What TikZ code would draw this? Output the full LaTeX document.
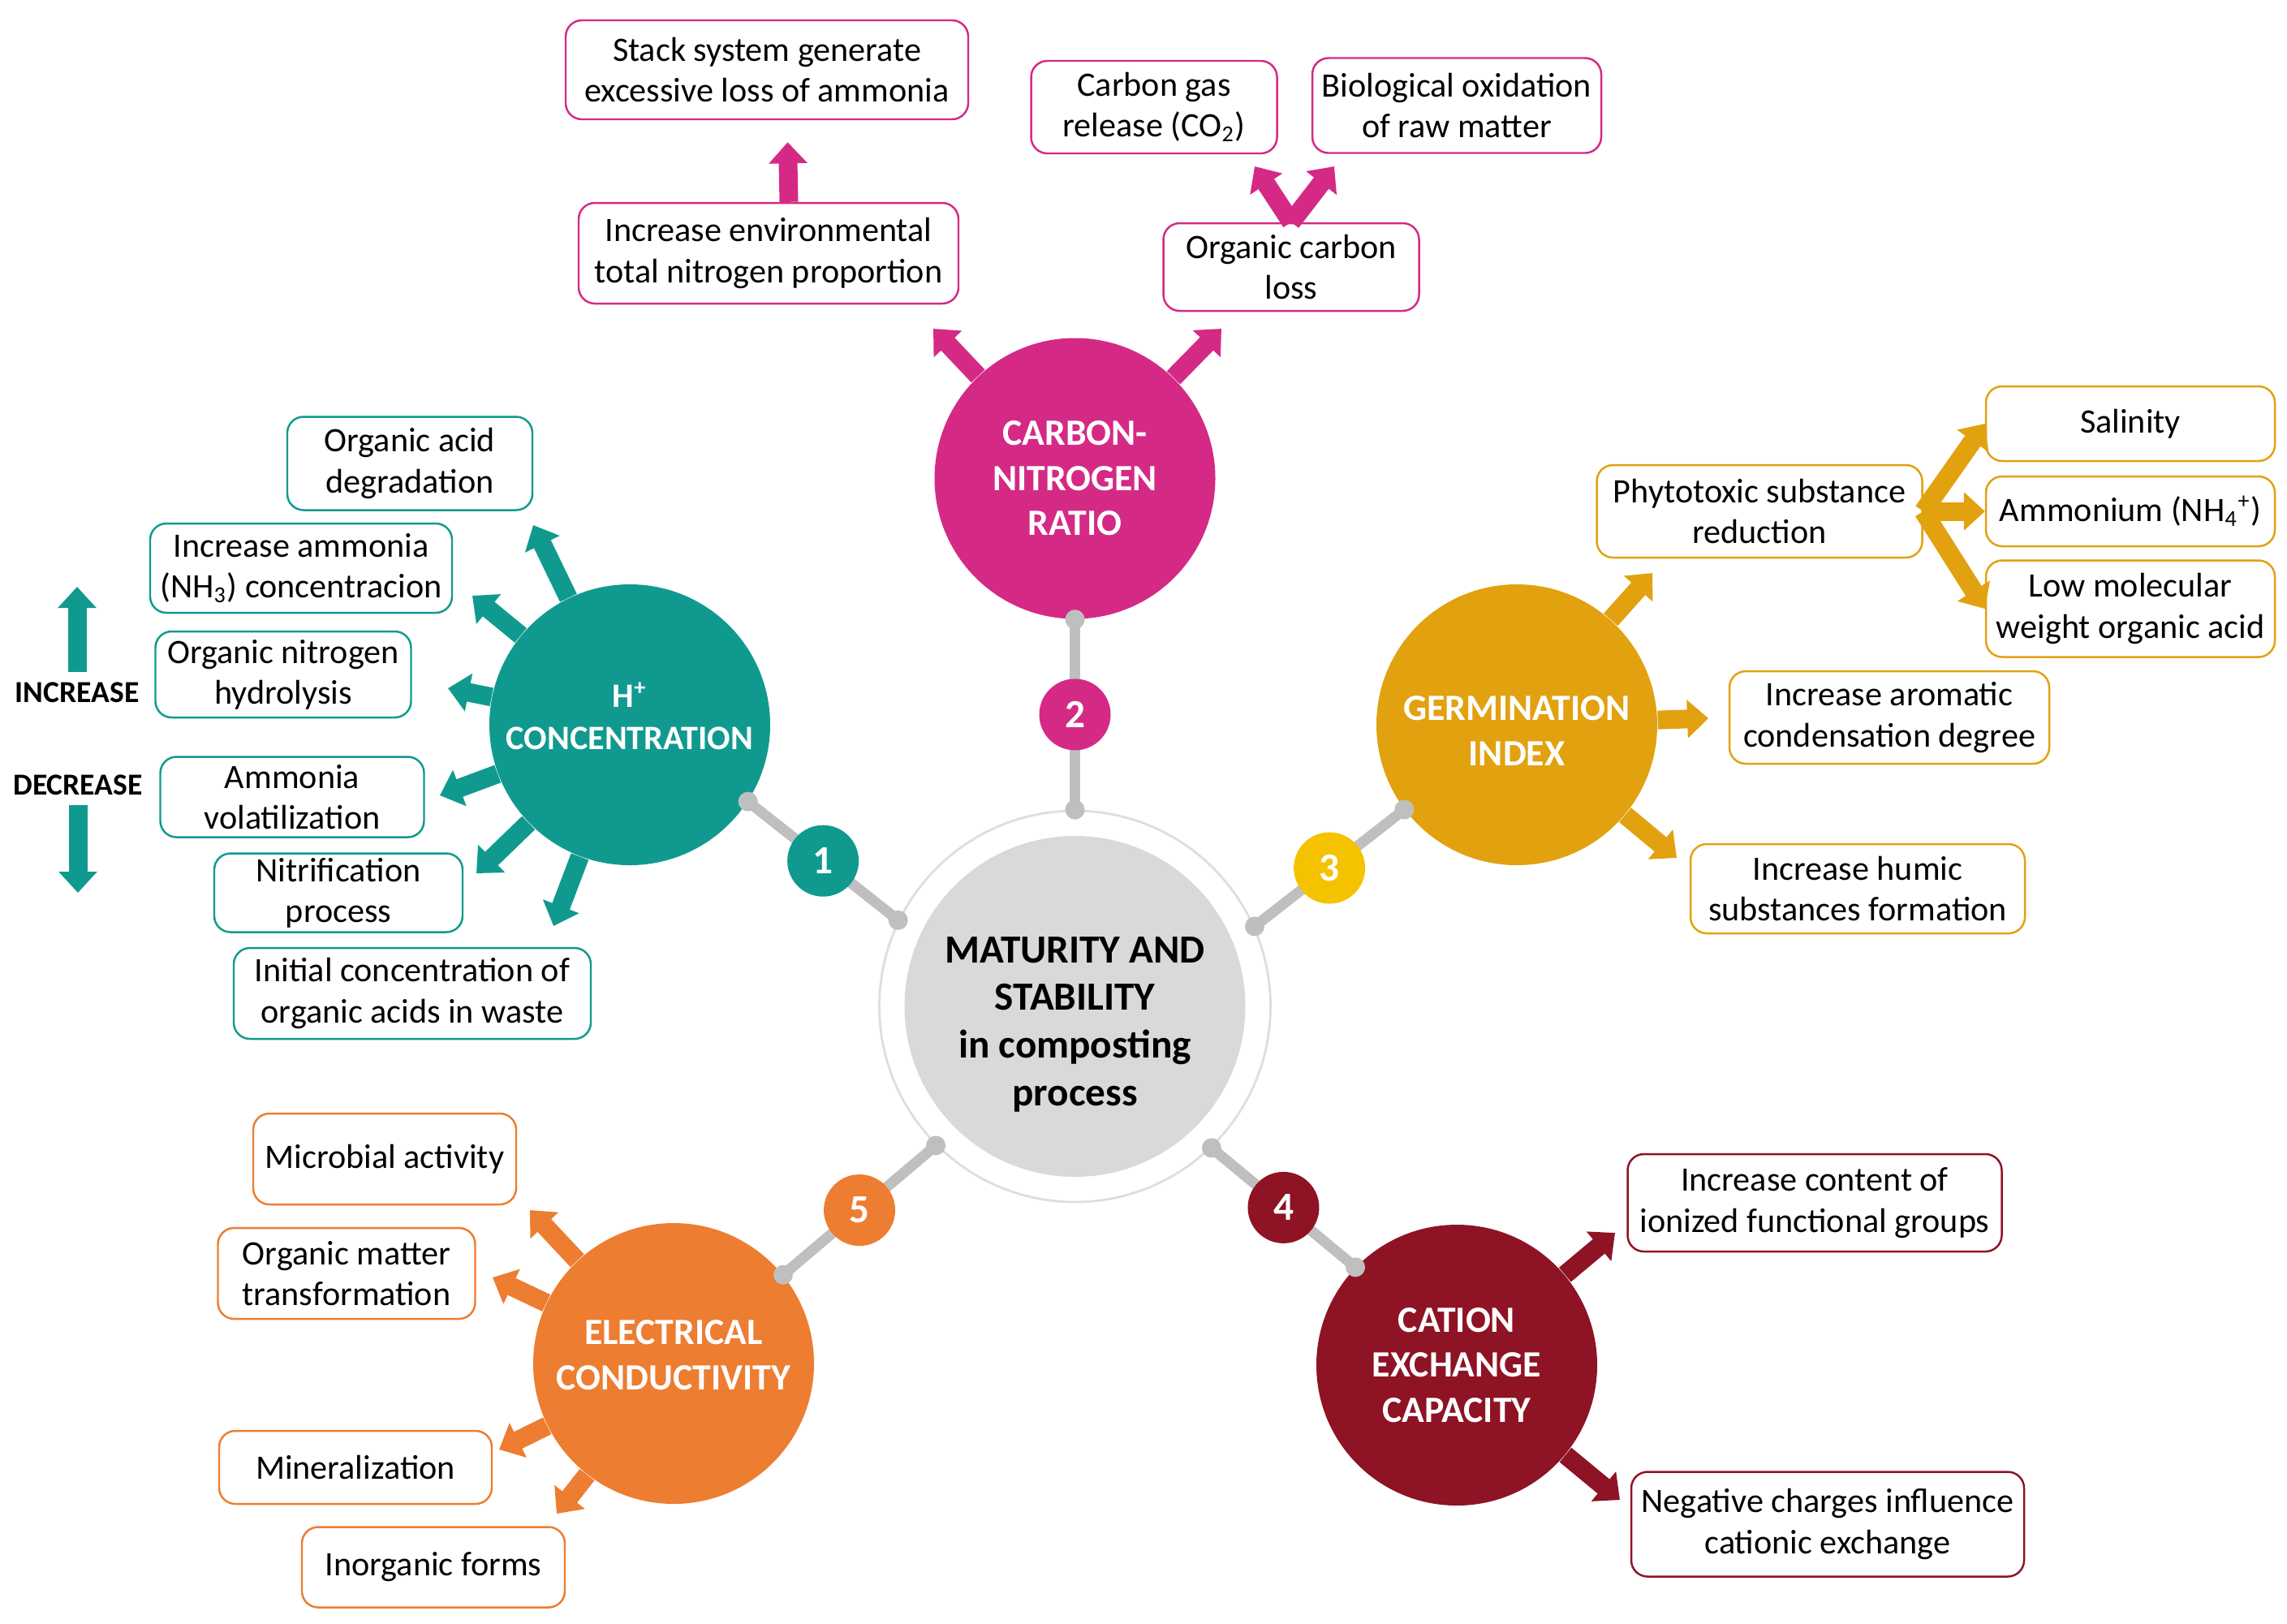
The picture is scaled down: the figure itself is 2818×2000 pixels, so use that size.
\documentclass[tikz,border=0pt]{standalone}
\usepackage{fontspec}
\setmainfont{Carlito}
\usepackage{tikz}
\usetikzlibrary{arrows.meta}
\definecolor{hplus}{RGB}{16,154,143}
\definecolor{cnr}{RGB}{212,42,134}
\definecolor{germ}{RGB}{226,161,15}
\definecolor{yel}{RGB}{245,194,0}
\definecolor{cec}{RGB}{142,19,37}
\definecolor{elec}{RGB}{237,125,49}
\definecolor{linkgray}{RGB}{191,191,191}
\definecolor{coregray}{RGB}{217,217,217}
\definecolor{ringgray}{RGB}{222,222,222}

\begin{document}
\begin{tikzpicture}[x=0.1mm, y=-0.1mm, every node/.style={align=center},
  hub/.style={circle, fill=#1, minimum size=34.6mm, inner sep=0pt, text=white, font=\bfseries\fontsize{13}{15.8}\selectfont},
  num/.style={circle, fill=#1, minimum size=8.8mm, inner sep=0pt, text=white, font=\bfseries\fontsize{14}{16}\selectfont},
  factor/.style={draw=#1, fill=white, line width=0.7pt, rounded corners=2mm, inner xsep=1mm, inner ysep=0.3mm, font=\fontsize{12}{14.3}\selectfont},
  fat/.style={draw=#1, line width=2.3mm, -{Triangle[width=4.6mm,length=2.6mm]}},
  link/.style={draw=linkgray, line width=1.3mm},
  tag/.style={font=\bfseries\fontsize{10.7}{12}\selectfont}]
  \path[use as bounding box, fill=white] (0,0) rectangle (2818,2000);

  % centre
  \node[circle, draw=ringgray, line width=0.8pt, fill=white, minimum size=48.2mm] (core) at (1324.5,1240) {};
  \node[circle, fill=coregray, minimum size=42mm] (disk) at (core) {};
  \node[font=\bfseries\fontsize{14}{16.7}\selectfont, yshift=-2.2mm] (coretxt) at (core)
    {MATURITY AND\\STABILITY\\in composting\\process};

  % parameters
  \node[hub=cnr] (cn) at (1324.5,589.5) {CARBON-\\NITROGEN\\RATIO};
  \node[hub=hplus, font=\bfseries\fontsize{12}{14.7}\selectfont] (hc) at (776,893)
    {\smash{\parbox{32mm}{\centering H\textsuperscript{+}\\CONCENTRATION}}};
  \node[hub=germ] (gi) at (1869,893)
    {\raisebox{-1.8mm}[0pt][0pt]{\parbox{32mm}{\centering GERMINATION\\INDEX}}};
  \node[hub=cec] (ce) at (1795,1682) {CATION\\EXCHANGE\\CAPACITY};
  \node[hub=elec] (ec) at (830,1680)
    {\smash{\parbox{32mm}{\centering ELECTRICAL\\CONDUCTIVITY}}};

  \draw[link] (cn.-90) -- node[num=cnr] (n2) {2} (core.90);
  \draw[link] (hc.-33) -- node[num=hplus] (n1) {1} (core.154);
  \draw[link] (gi.217) -- node[num=yel] (n3) {3} (core.24);
  \draw[link] (ce.136) -- node[num=cec] (n4) {4} (core.-46);
  \draw[link] (ec.39) -- node[num=elec] (n5) {5} (core.-135);
  \foreach \p in {cn.-90, core.90, hc.-33, core.154, gi.217, core.24, ce.136, core.-46, ec.39, core.-135}
    \fill[linkgray] (\p) circle (1.2mm);

  % carbon-nitrogen ratio
  \node[factor=cnr, minimum width=49.6mm, minimum height=12.2mm] (stack) at (945,86)
    {Stack system generate\\excessive loss of ammonia};
  \node[factor=cnr, minimum width=46.8mm, minimum height=12.4mm] (incenv) at (947,312)
    {Increase environmental\\total nitrogen proportion};
  \node[factor=cnr, minimum width=30.3mm, minimum height=11.4mm] (cogas) at (1422,132)
    {Carbon gas\\release (CO\textsubscript{2})};
  \node[factor=cnr, minimum width=35.6mm, minimum height=11.7mm] (biox) at (1795,130)
    {Biological oxidation\\of raw matter};
  \node[factor=cnr, minimum width=31.5mm, minimum height=10.8mm] (ocl) at (1591,329)
    {Organic carbon\\loss};
  \coordinate (c1) at (1150,405);
  \coordinate (c2) at (1505,405);
  \coordinate (v1) at (1546,205);
  \coordinate (v2) at (1644,205);
  \draw[fat=cnr] (cn) -- (c1);
  \draw[fat=cnr] (cn) -- (c2);
  \draw[fat=cnr, shorten >=2.7mm] ([xshift=2.5mm]incenv.north) -- ([xshift=2.5mm]stack.south);
  \draw[fat=cnr] (ocl.north) -- (v1);
  \draw[fat=cnr] (ocl.north) -- (v2);

  % H+ concentration
  \node[factor=hplus, minimum width=30.2mm, minimum height=11.5mm] (oad) at (505,571)
    {Organic acid\\degradation};
  \node[factor=hplus, minimum width=37.2mm, minimum height=11mm] (iam) at (371,700)
    {Increase ammonia\\(NH\textsubscript{3}) concentracion};
  \node[factor=hplus, minimum width=31.5mm, minimum height=10.6mm] (onh) at (349,831)
    {Organic nitrogen\\hydrolysis};
  \node[factor=hplus, minimum width=32.5mm, minimum height=9.9mm] (avo) at (360,982)
    {Ammonia\\volatilization};
  \node[factor=hplus, minimum width=30.6mm, minimum height=9.7mm] (nit) at (417,1100)
    {Nitrification\\process};
  \node[factor=hplus, minimum width=44mm, minimum height=11.2mm] (ica) at (508,1224)
    {Initial concentration of\\organic acids in waste};
  \coordinate (h1) at (657,647);
  \coordinate (h2) at (582,734);
  \coordinate (h3) at (552,848);
  \coordinate (h4) at (542,980);
  \coordinate (h5) at (587,1076);
  \coordinate (h6) at (682,1141);
  \foreach \i in {1,...,6}
    \draw[fat=hplus] (hc) -- (h\i);
  \node[tag] (incr) at (95,853) {INCREASE};
  \node[tag] (decr) at (96,967) {DECREASE};
  \coordinate (uptip) at (95,723);
  \coordinate (downtip) at (96,1100);
  \draw[fat=hplus] (incr) -- (uptip);
  \draw[fat=hplus] (decr) -- (downtip);

  % germination index
  \node[factor=germ, minimum width=40.1mm, minimum height=11.4mm] (phy) at (2168,630)
    {Phytotoxic substance\\reduction};
  \node[factor=germ, minimum width=35.6mm, minimum height=9.2mm] (sal) at (2625,522) {Salinity};
  \node[factor=germ, minimum width=35.6mm, minimum height=8.6mm] (amm) at (2625,630)
    {Ammonium (NH\textsubscript{4}\textsuperscript{+})};
  \node[factor=germ, minimum width=35.6mm, minimum height=11.9mm] (lmw) at (2625,750)
    {Low molecular\\weight organic acid};
  \node[factor=germ, minimum width=39.4mm, minimum height=11.4mm] (iar) at (2328,884)
    {Increase aromatic\\condensation degree};
  \node[factor=germ, minimum width=41.2mm, minimum height=11mm] (ihs) at (2289,1095)
    {Increase humic\\substances formation};
  \coordinate (g1) at (2036,706);
  \coordinate (g2) at (2105,885);
  \coordinate (g3) at (2066,1057);
  \foreach \i in {1,2,3}
    \draw[fat=germ] (gi) -- (g\i);
  \draw[fat=germ] (phy.east) -- (sal.west);
  \draw[fat=germ] (phy.east) -- (amm.west);
  \draw[fat=germ] (phy.east) -- (lmw.west);

  % cation exchange capacity
  \node[factor=cec, minimum width=46.1mm, minimum height=12mm] (icf) at (2236,1482)
    {Increase content of\\ionized functional groups};
  \node[factor=cec, minimum width=48.4mm, minimum height=12.9mm] (ngc) at (2252,1878)
    {Negative charges influence\\cationic exchange};
  \coordinate (e1) at (1990,1519);
  \coordinate (e2) at (1996,1848);
  \draw[fat=cec] (ce) -- (e1);
  \draw[fat=cec] (ce) -- (e2);

  % electrical conductivity
  \node[factor=elec, minimum width=32.4mm, minimum height=11.2mm] (mic) at (474,1428) {Microbial activity};
  \node[factor=elec, minimum width=31.7mm, minimum height=11.2mm] (omt) at (427,1569)
    {Organic matter\\transformation};
  \node[factor=elec, minimum width=33.6mm, minimum height=9mm] (min) at (438,1808) {Mineralization};
  \node[factor=elec, minimum width=32.4mm, minimum height=9.9mm] (ino) at (534,1931) {Inorganic forms};
  \coordinate (o1) at (653,1491);
  \coordinate (o2) at (607,1574);
  \coordinate (o3) at (615,1786);
  \coordinate (o4) at (686,1865);
  \foreach \i in {1,...,4}
    \draw[fat=elec] (ec) -- (o\i);
\end{tikzpicture}
\end{document}
